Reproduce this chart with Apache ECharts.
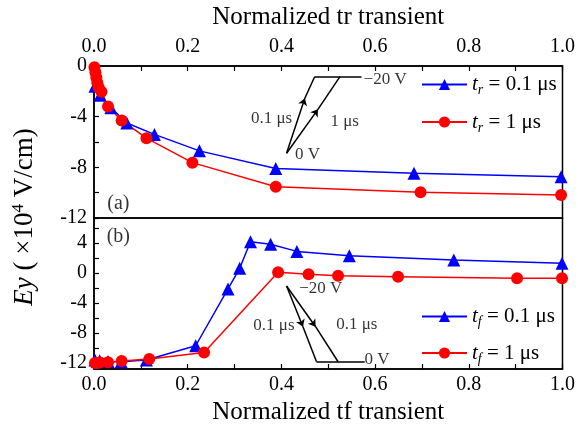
<!DOCTYPE html>
<html><head><meta charset="utf-8">
<script src="https://cdn.jsdelivr.net/npm/echarts@6/dist/echarts.min.js"></script>
<style>html,body{margin:0;padding:0;background:#fff}#c{width:578px;height:432px}</style>
</head><body><div id="c"></div>
<script>
// ---- data ----
const xTicks = [0,0.1,0.2,0.3,0.4,0.5,0.6,0.7,0.8,0.9,1.0];
const xLabels = [0,0.2,0.4,0.6,0.8,1.0];
const topYTicks = [-12,-10,-8,-6,-4,-2,0];
const topYLabels = [-12,-8,-4,0];
const botYTicks = [-12,-10,-8,-6,-4,-2,0,2,4,6];
const botYLabels = [-12,-8,-4,0,4];

const trFast = [[0.002,-1.6],[0.013,-2.3],[0.036,-3.3],[0.07,-4.5],[0.129,-5.4],[0.225,-6.7],[0.388,-8.1],[0.683,-8.47],[0.997,-8.74]];
const trSlow = [[0.001,-0.1],[0.003,-0.5],[0.005,-0.9],[0.007,-1.3],[0.01,-1.7],[0.016,-2.03],[0.03,-3.2],[0.059,-4.3],[0.112,-5.7],[0.21,-7.63],[0.388,-9.53],[0.697,-9.97],[0.997,-10.18]];
const tfFast = [[0.002,-11.6],[0.012,-11.7],[0.03,-11.8],[0.058,-11.85],[0.112,-11.6],[0.217,-9.7],[0.286,-2.13],[0.311,0.62],[0.334,4.17],[0.377,3.82],[0.433,2.88],[0.545,2.3],[0.768,1.73],[0.999,1.29]];
const tfSlow = [[0.002,-12.0],[0.006,-12.0],[0.013,-11.95],[0.03,-11.9],[0.059,-11.73],[0.118,-11.47],[0.235,-10.6],[0.393,0.09],[0.458,-0.18],[0.521,-0.36],[0.649,-0.49],[0.903,-0.71],[0.999,-0.71]];

const legendText = {
  trFast: '{i|t}{s|r}{n| = 0.1 μs}',
  trSlow: '{i|t}{s|r}{n| = 1 μs}',
  tfFast: '{i|t}{s|f}{n| = 0.1 μs}',
  tfSlow: '{i|t}{s|f}{n| = 1 μs}'
};

// inset pulse diagrams (data coordinates)
const riseArrowSegs = [[[0.411,-6.89],[0.450,-2.55]],[[0.411,-6.89],[0.478,-3.42]]];
const risePlainSegs = [[[0.450,-2.55],[0.471,-0.845]],[[0.478,-3.42],[0.525,-0.845]],[[0.471,-0.845],[0.571,-0.845]]];
const fallArrowSegs = [[[0.411,-1.73],[0.446,-7.16]],[[0.411,-1.73],[0.473,-7.16]]];
const fallPlainSegs = [[[0.446,-7.16],[0.475,-11.83]],[[0.473,-7.16],[0.521,-11.83]],[[0.475,-11.83],[0.578,-11.83]]];
const riseLabels = [[0.379,-4.13,'0.1 μs'],[0.535,-4.4,'1 μs'],[0.456,-7.02,'0 V'],[0.6215,-1.1,'−20 V']];
const fallLabels = [[0.484,-2.04,'−20 V'],[0.384,-7.07,'0.1 μs'],[0.561,-6.93,'0.1 μs'],[0.604,-11.6,'0 V']];
const panelLabels = [[0.052,-10.84,'(a)',0],[0.052,4.84,'(b)',1]];

const FONT = '"Liberation Serif", "DejaVu Serif", serif';
const BLUE = '#0000ff', RED = '#ff0000';

function xAxis(gi, pos, name, gap, margin){
  return {
    type:'value', gridIndex:gi, position:pos, min:0, max:1,
    name:name, nameLocation:'middle', nameGap:gap,
    nameTextStyle:{fontFamily:FONT, fontSize:25, color:'#000'},
    axisLine:{show:true, onZero:false, lineStyle:{color:'#000', width:1.5}},
    axisTick:{show:true, inside:true, length:5, lineStyle:{color:'#000', width:1.2}, customValues:xTicks},
    axisLabel:{show:true, customValues:xLabels, margin:margin, fontFamily:FONT, fontSize:20, color:'#000', formatter:v=>v.toFixed(1)},
    splitLine:{show:false}
  };
}
function yAxis(gi, min, max, ticks, labels){
  return {
    type:'value', gridIndex:gi, min:min, max:max,
    axisLine:{show:true, onZero:false, lineStyle:{color:'#000', width:1.5}},
    axisTick:{show:true, inside:true, length:5, lineStyle:{color:'#000', width:1.2}, customValues:ticks},
    axisLabel:{show:true, customValues:labels, margin:7, fontFamily:FONT, fontSize:20, color:'#000', formatter:v=>String(v)},
    splitLine:{show:false}
  };
}
function dataSeries(name, data, gi, color, sym, size){
  return {name:name, type:'line', xAxisIndex:gi, yAxisIndex:gi, data:data,
    symbol:sym, symbolSize:size, itemStyle:{color:color}, lineStyle:{color:color, width:1.5}, z:5};
}
function segSeries(segs, gi, arrow){
  return {type:'lines', coordinateSystem:'cartesian2d', xAxisIndex:gi, yAxisIndex:gi, silent:true,
    symbol: arrow ? ['none','arrow'] : ['none','none'], symbolSize:7,
    lineStyle:{color:'#000', width:1.5, opacity:1},
    data: segs.map(s=>({coords:s})), z:3};
}
function labelSeries(items, gi, size){
  return {type:'scatter', xAxisIndex:gi, yAxisIndex:gi, silent:true, symbolSize:0,
    data: items.map(t=>({value:[t[0],t[1]], name:t[2]})),
    label:{show:true, position:'inside', formatter:'{b}', fontFamily:FONT,
      fontSize:size, color:'#000'}, z:4};
}
const rich = {
  i:{fontFamily:FONT, fontStyle:'italic', fontSize:21, color:'#000'},
  s:{fontFamily:FONT, fontStyle:'italic', fontSize:14, color:'#000', verticalAlign:'bottom', padding:[12,0,0,0]},
  n:{fontFamily:FONT, fontSize:21, color:'#000'}
};
function legend(data, top, gap){
  return {data:data, orient:'vertical', left:416, top:top, itemWidth:45, itemHeight:14, itemGap:gap,
    formatter:n=>legendText[n], textStyle:{rich:rich, fontFamily:FONT, fontSize:21}, selectedMode:false};
}

const chart = echarts.init(document.getElementById('c'), null, {renderer:'canvas'});
chart.setOption({
  animation:false,
  backgroundColor:'#fff',
  grid:[
    {left:94, top:66, width:469, height:152, show:true, borderColor:'#000', borderWidth:1.5},
    {left:94, top:218, width:469, height:151, show:true, borderColor:'#000', borderWidth:1.5}
  ],
  xAxis:[xAxis(0,'top','Normalized tr transient',36,9), xAxis(1,'bottom','Normalized tf transient',31,6)],
  yAxis:[yAxis(0,-12,0,topYTicks,topYLabels), yAxis(1,-12.8,7.33,botYTicks,botYLabels)],
  legend:[legend(['trFast','trSlow'],69,14), legend(['tfFast','tfSlow'],301,13)],
  graphic:[{
    type:'text', x:25, y:217, rotation:Math.PI/2,
    style:{text:'{i|Ey}{n| ( ×10}{p|4}{n| V/cm)}', align:'center', verticalAlign:'middle',
      rich:{
        i:{fontFamily:FONT, fontStyle:'italic', fontSize:27, fill:'#000'},
        n:{fontFamily:FONT, fontSize:27, fill:'#000'},
        p:{fontFamily:FONT, fontSize:17, fill:'#000', verticalAlign:'top', padding:[0,0,13,0]}
      }}
  }],
  series:[
    dataSeries('trFast', trFast, 0, BLUE, 'triangle', 13),
    dataSeries('trSlow', trSlow, 0, RED, 'circle', 12),
    dataSeries('tfFast', tfFast, 1, BLUE, 'triangle', 13),
    dataSeries('tfSlow', tfSlow, 1, RED, 'circle', 12),
    segSeries(riseArrowSegs,0,true), segSeries(risePlainSegs,0,false),
    segSeries(fallArrowSegs,1,true), segSeries(fallPlainSegs,1,false),
    labelSeries(riseLabels,0,17), labelSeries(fallLabels,1,17),
    labelSeries(panelLabels.filter(p=>p[3]===0),0,20), labelSeries(panelLabels.filter(p=>p[3]===1),1,20)
  ]
});
</script></body></html>
